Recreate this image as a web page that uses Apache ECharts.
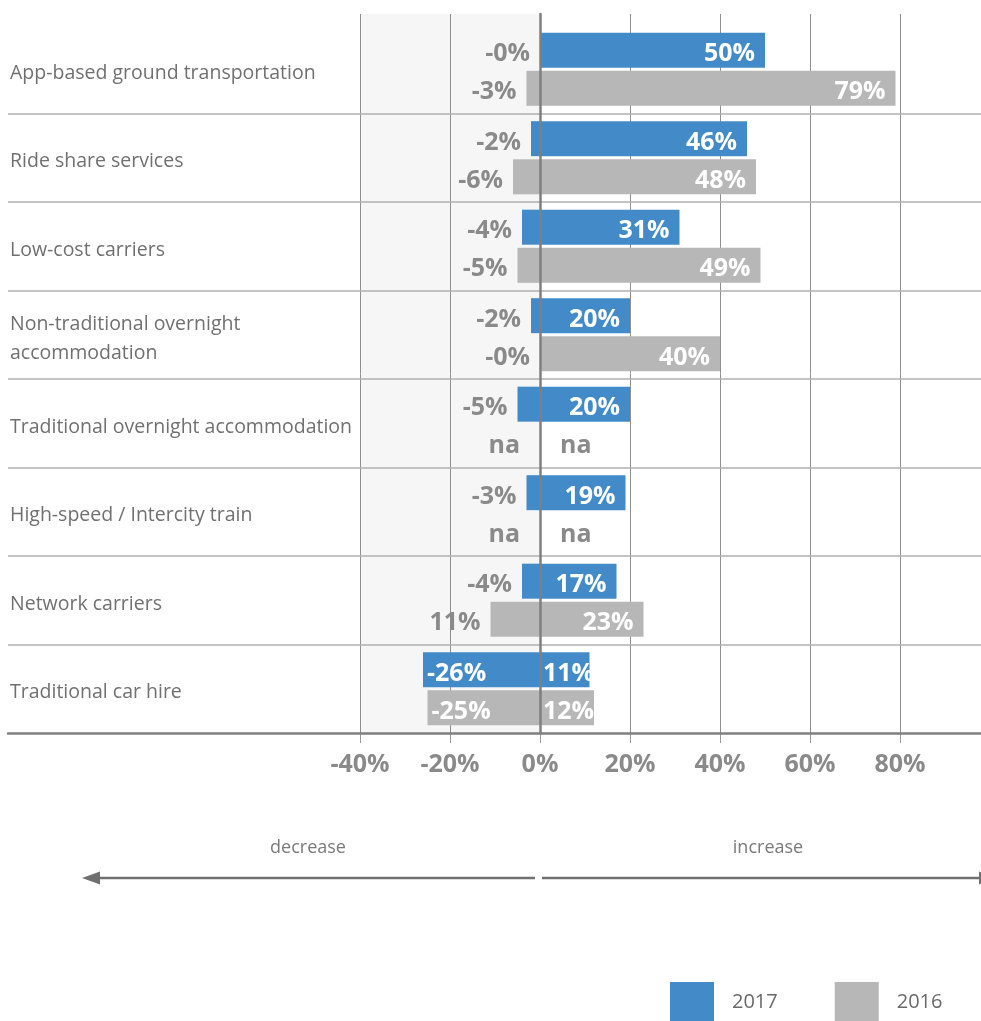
<!DOCTYPE html>
<html>
<head>
<meta charset="utf-8">
<script src="https://cdn.jsdelivr.net/npm/echarts@6/dist/echarts.min.js"></script>
<style>
  html, body { margin: 0; padding: 0; background: #fff; }
  #chart { width: 981px; height: 1021px; }
</style>
</head>
<body>
<div id="chart"></div>
<script>
// Share of respondents expecting a change in use, by mode (2017 vs 2016)
const categories = [
  'App-based ground transportation',
  'Ride share services',
  'Low-cost carriers',
  'Non-traditional overnight\naccommodation',
  'Traditional overnight accommodation',
  'High-speed / Intercity train',
  'Network carriers',
  'Traditional car hire'
];

// increase / decrease shares in percent; null = not asked that year
const increase2017 = [50, 46, 31, 20, 20, 19, 17, 11];
const decrease2017 = [-0, -2, -4, -2, -5, -3, -4, -26];
const increase2016 = [79, 48, 49, 40, null, null, 23, 12];
const decrease2016 = [-3, -6, -5, -0, null, null, -11, -25];

// printed texts for the decrease side
const decreaseLabels2017 = ['-0%', '-2%', '-4%', '-2%', '-5%', '-3%', '-4%', '-26%'];
const decreaseLabels2016 = ['-3%', '-6%', '-5%', '-0%', 'na', 'na', '11%', '-25%'];

const xTicks = { min: -40, max: 98, interval: 20 };

const BLUE = '#428bc8';
const GREY = '#b7b7b7';
const LABEL_GREY = '#8a8a8a';
const FONT = '"Open Sans", "DejaVu Sans", sans-serif';

const baseLabel = {
  show: true,
  fontFamily: FONT,
  fontWeight: 'bold',
  fontSize: 25,
  offset: [0, 4]
};

function decreaseSeries(name, color, stack, values, texts) {
  return {
    type: 'bar',
    name: name,
    stack: stack,
    xAxisIndex: 2,
    yAxisIndex: 2,
    barWidth: 35,
    barGap: '9%',
    itemStyle: { color: color },
    label: Object.assign({}, baseLabel, {
      position: 'left',
      distance: 10,
      color: LABEL_GREY,
      formatter: p => texts[p.dataIndex]
    }),
    data: values.map(v => {
      if (v === null) {
        return { value: 0, label: { distance: 20 } };
      }
      if (v <= -15) {
        return { value: v, label: { position: 'insideLeft', distance: 4, color: '#fff' } };
      }
      return { value: v };
    })
  };
}

function increaseSeries(name, color, stack, values) {
  return {
    type: 'bar',
    name: name,
    stack: stack,
    xAxisIndex: 2,
    yAxisIndex: 2,
    barWidth: 35,
    barGap: '9%',
    itemStyle: { color: color },
    label: Object.assign({}, baseLabel, {
      position: 'insideRight',
      distance: 10,
      color: '#fff',
      formatter: p => (values[p.dataIndex] === null ? 'na' : values[p.dataIndex] + '%')
    }),
    data: values.map(v => {
      if (v === null) {
        return { value: 0, label: { position: 'right', distance: 20, color: LABEL_GREY } };
      }
      if (v < 15) {
        return { value: v, label: { position: 'insideLeft', distance: 3 } };
      }
      return { value: v };
    })
  };
}

const chart = echarts.init(document.getElementById('chart'), null, { renderer: 'canvas' });

chart.setOption({
  animation: false,
  backgroundColor: '#fff',
  grid: [
    // 0: vertical grid lines, shaded decrease zone, zero line
    { left: 360, right: 0, top: 14, bottom: 288 },
    // 1: row separators across the full width
    { left: 8, right: 0, top: 25, bottom: 288 },
    // 2: bars
    { left: 360, right: 0, top: 25, bottom: 288 },
    // 3: category names, set slightly lower within each row
    { left: 8, right: 0, top: 29, bottom: 284 }
  ],
  xAxis: [
    {
      gridIndex: 0,
      type: 'value',
      min: xTicks.min,
      max: xTicks.max,
      interval: xTicks.interval,
      z: 0,
      axisLine: { show: false },
      axisTick: { show: true, length: 10, lineStyle: { color: '#9a9a9a', width: 1 } },
      axisLabel: {
        show: true,
        showMaxLabel: false,
        margin: 19,
        formatter: v => v + '%',
        color: '#8a8a8a',
        fontFamily: FONT,
        fontWeight: 'bold',
        fontSize: 25
      },
      splitLine: { show: true, showMaxLine: false, lineStyle: { color: '#8f8f8f', width: 1 } },
      splitArea: {
        show: true,
        areaStyle: {
          color: ['#f6f6f6', '#f6f6f6', 'rgba(0,0,0,0)', 'rgba(0,0,0,0)',
                  'rgba(0,0,0,0)', 'rgba(0,0,0,0)', 'rgba(0,0,0,0)']
        }
      }
    },
    {
      gridIndex: 1,
      type: 'value',
      min: 0,
      max: 1,
      z: 3,
      axisLine: { show: true, lineStyle: { color: '#7f7f7f', width: 2.5 } },
      axisTick: { show: false },
      axisLabel: { show: false },
      splitLine: { show: false }
    },
    {
      gridIndex: 2,
      type: 'value',
      min: xTicks.min,
      max: xTicks.max,
      show: false
    },
    {
      gridIndex: 3,
      type: 'value',
      min: 0,
      max: 1,
      show: false
    }
  ],
  yAxis: [
    {
      gridIndex: 0,
      type: 'value',
      min: 0,
      max: 1,
      z: 10,
      axisLine: { show: true, onZero: true, lineStyle: { color: '#7f7f7f', width: 2.5 } },
      axisTick: { show: false },
      axisLabel: { show: false },
      splitLine: { show: false }
    },
    {
      gridIndex: 1,
      type: 'category',
      inverse: true,
      data: categories,
      z: 1,
      axisLine: { show: false },
      axisTick: { show: false },
      axisLabel: { show: false },
      splitLine: {
        show: true,
        showMinLine: false,
        showMaxLine: false,
        lineStyle: { color: '#b0b0b0', width: 1.5 }
      }
    },
    {
      gridIndex: 2,
      type: 'category',
      inverse: true,
      data: categories,
      show: false
    },
    {
      gridIndex: 3,
      type: 'category',
      inverse: true,
      data: categories,
      axisLine: { show: false },
      axisTick: { show: false },
      splitLine: { show: false },
      axisLabel: {
        inside: true,
        margin: 2,
        color: '#707070',
        fontFamily: FONT,
        fontSize: 19.5,
        lineHeight: 29
      }
    }
  ],
  legend: {
    left: 670,
    top: 982,
    padding: 0,
    itemWidth: 44,
    itemHeight: 40,
    itemGap: 57,
    icon: 'rect',
    selectedMode: false,
    data: ['2017', '2016'],
    textStyle: {
      color: '#6a6a6a',
      fontFamily: FONT,
      fontSize: 20,
      padding: [4, 0, 0, 13]
    }
  },
  series: [
    decreaseSeries('2017', BLUE, 'y2017', decrease2017, decreaseLabels2017),
    increaseSeries('2017', BLUE, 'y2017', increase2017),
    decreaseSeries('2016', GREY, 'y2016', decrease2016, decreaseLabels2016),
    increaseSeries('2016', GREY, 'y2016', increase2016)
  ],
  graphic: [
    {
      type: 'text',
      x: 308, y: 848,
      style: { text: 'decrease', align: 'center', verticalAlign: 'middle',
               fill: '#7a7a7a', fontFamily: FONT, fontSize: 18 }
    },
    {
      type: 'text',
      x: 768, y: 848,
      style: { text: 'increase', align: 'center', verticalAlign: 'middle',
               fill: '#7a7a7a', fontFamily: FONT, fontSize: 18 }
    },
    {
      type: 'line',
      shape: { x1: 99, y1: 878, x2: 535, y2: 878 },
      style: { stroke: '#707070', lineWidth: 2.5 }
    },
    {
      type: 'polygon',
      shape: { points: [[82, 878], [100, 871.5], [100, 884.5]] },
      style: { fill: '#707070' }
    },
    {
      type: 'line',
      shape: { x1: 542, y1: 878, x2: 980, y2: 878 },
      style: { stroke: '#707070', lineWidth: 2.5 }
    },
    {
      type: 'polygon',
      shape: { points: [[997, 878], [979, 871.5], [979, 884.5]] },
      style: { fill: '#707070' }
    }
  ]
});
</script>
</body>
</html>
